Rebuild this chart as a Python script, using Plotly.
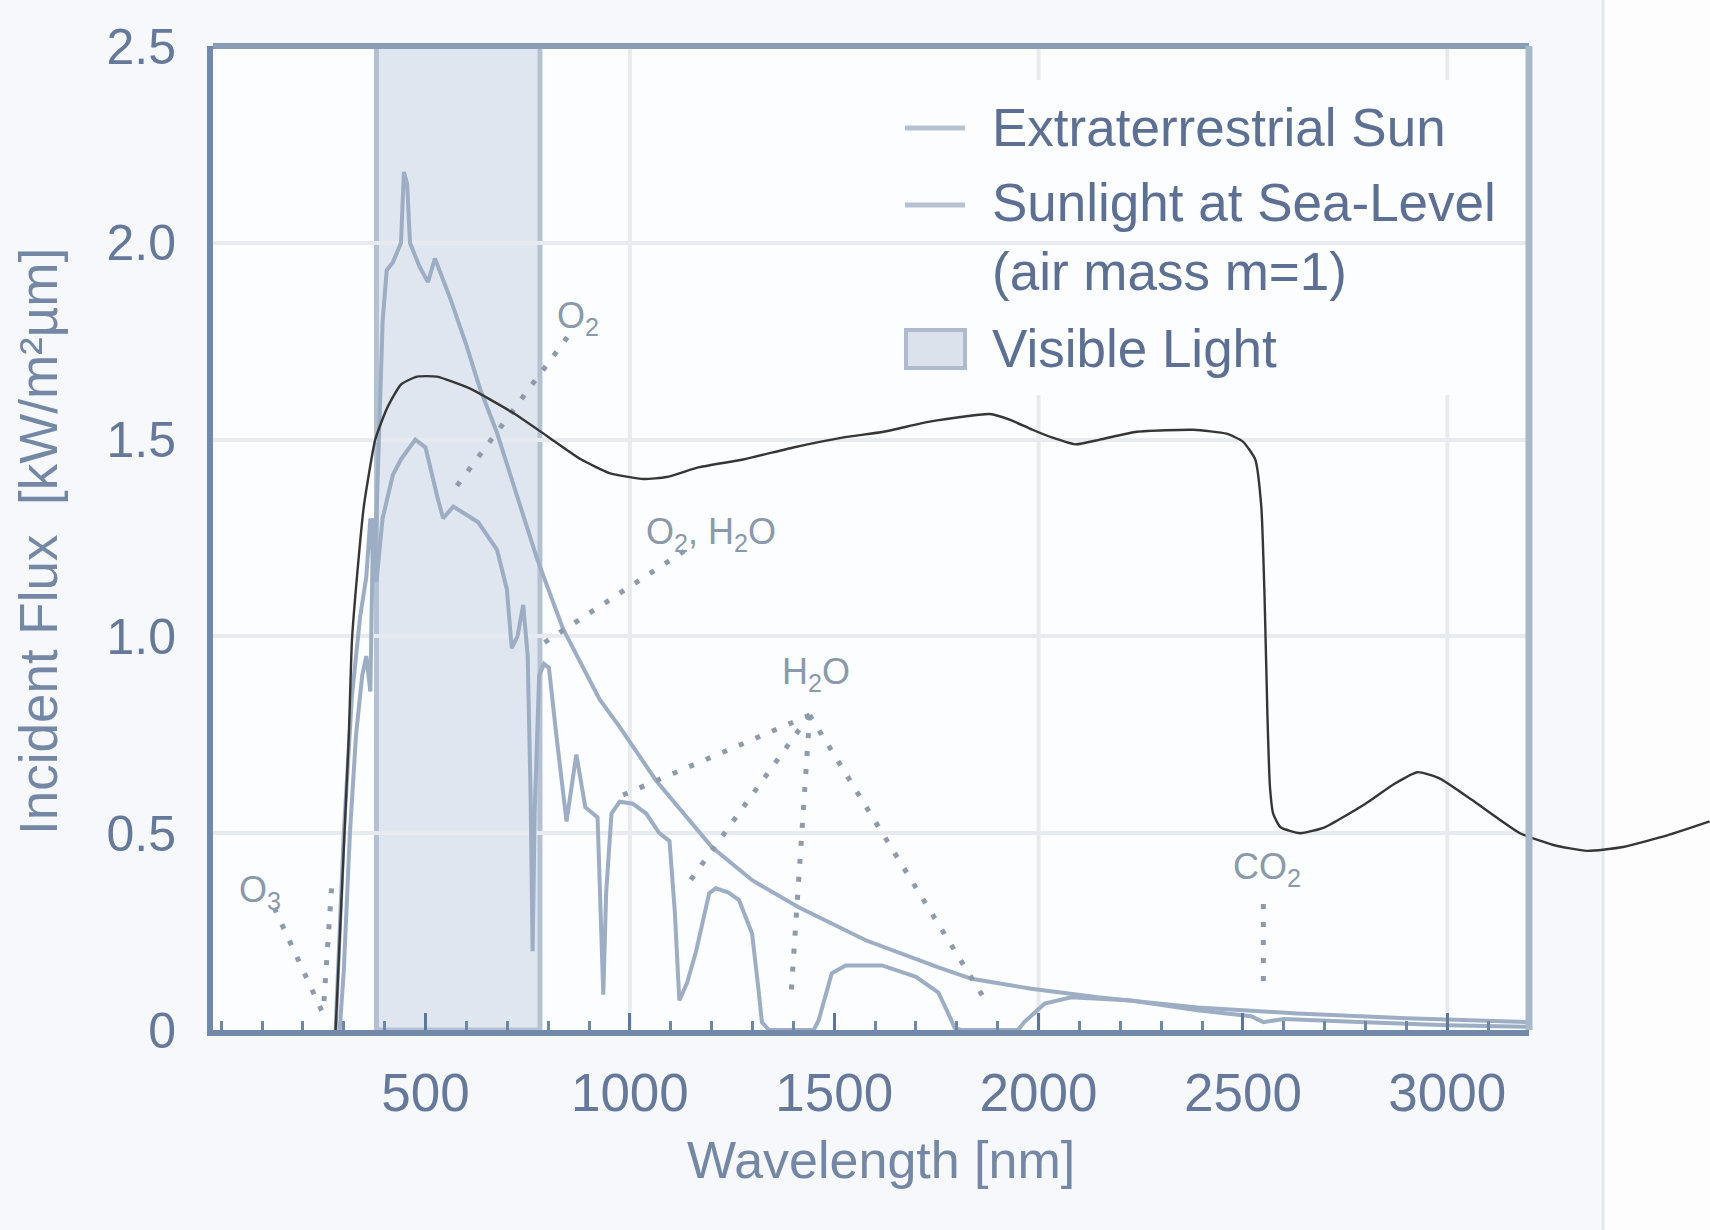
import plotly.graph_objects as go

W, H = 1710, 1230
# plot-area pixel box (full size)
PL, PR, PT, PB = 213, 1529, 46, 1030
X_RANGE = [-20, 3200]
Y_RANGE = [0, 2.5]

# ---------------- data ----------------
ext_nm = [280, 300, 320, 340, 355, 365, 375, 385, 395, 405, 420, 440, 447, 455, 462, 485, 506, 523,
          560, 600, 633, 674, 720, 772, 836, 926, 975, 1064, 1201, 1300, 1413, 1577, 1755, 1836,
          1982, 2145, 2389, 2633, 2900, 3200]
ext_val = [0.0, 0.5, 0.85, 1.05, 1.15, 1.30, 1.14, 1.50, 1.80, 1.93, 1.95, 2.00, 2.18, 2.15, 2.00,
           1.94, 1.90, 1.96, 1.86, 1.74, 1.63, 1.52, 1.37, 1.20, 1.02, 0.84, 0.77, 0.634, 0.464,
           0.38, 0.312, 0.228, 0.159, 0.13, 0.105, 0.083, 0.057, 0.042, 0.03, 0.02]

sea_nm = [290, 300, 315, 330, 345, 355, 365, 372, 380, 395, 420, 440, 475, 500, 530, 543, 568, 629,
          675, 699, 711, 725, 739, 750, 757, 762, 767, 778, 790, 802, 820, 845, 869, 891, 921, 928,
          935, 942, 955, 975, 1007, 1040, 1072, 1097, 1110, 1121, 1140, 1162, 1194, 1210, 1240,
          1267, 1299, 1315, 1323, 1340, 1450, 1462, 1494, 1528, 1617, 1700, 1755, 1780, 1795, 1810,
          1950, 1965, 2015, 2080, 2226, 2389, 2520, 2550, 2600, 2800, 3000, 3200]
sea_val = [0.0, 0.15, 0.5, 0.75, 0.9, 0.95, 0.86, 1.30, 1.14, 1.30, 1.41, 1.45, 1.50, 1.48, 1.35,
           1.30, 1.33, 1.29, 1.22, 1.12, 0.97, 1.00, 1.08, 0.95, 0.60, 0.20, 0.55, 0.90, 0.93, 0.92,
           0.75, 0.53, 0.70, 0.566, 0.54, 0.30, 0.09, 0.35, 0.55, 0.58, 0.575, 0.55, 0.50, 0.48,
           0.30, 0.075, 0.12, 0.20, 0.347, 0.36, 0.35, 0.33, 0.245, 0.10, 0.02, 0.0, 0.0, 0.025,
           0.144, 0.164, 0.164, 0.135, 0.095, 0.04, 0.005, 0.0, 0.0, 0.02, 0.067, 0.083, 0.075,
           0.05, 0.035, 0.02, 0.028, 0.02, 0.012, 0.008]

blk_nm = [280, 296, 312, 320, 333, 349, 377, 406, 440, 479, 528, 608, 711, 796, 880, 950, 1034, 1090,
          1170, 1280, 1400, 1520, 1621, 1730, 1828, 1880, 1931, 1985, 2034, 2090, 2150, 2241, 2379,
          2460, 2500, 2530, 2545, 2553, 2560, 2566, 2574, 2592, 2640, 2700, 2800, 2870, 2927, 2980,
          3060, 3178, 3260, 3342, 3430, 3540, 3642]
blk_val = [0.0, 0.37, 0.74, 0.99, 1.16, 1.33, 1.50, 1.58, 1.64, 1.66, 1.66, 1.63, 1.57, 1.51, 1.45,
           1.415, 1.40, 1.405, 1.43, 1.45, 1.48, 1.505, 1.52, 1.545, 1.56, 1.565, 1.55, 1.525, 1.505,
           1.488, 1.50, 1.52, 1.525, 1.515, 1.495, 1.45, 1.33, 1.10, 0.80, 0.62, 0.55, 0.515, 0.50,
           0.515, 0.575, 0.625, 0.655, 0.64, 0.585, 0.50, 0.47, 0.455, 0.465, 0.495, 0.53]

visible_band = [380, 780]

# absorption labels: (text, nm, value)
abs_labels = ["O<sub>3</sub>", "O<sub>2</sub>", "O<sub>2</sub>, H<sub>2</sub>O", "H<sub>2</sub>O", "CO<sub>2</sub>"]
abs_label_nm = [94, 873, 1198, 1455, 2559]
abs_label_val = [0.35, 1.81, 1.26, 0.904, 0.408]

# dotted pointer segments: start/end (nm, value)
ptr_x0 = [130, 270, 847, 1133, 1440, 1440, 1440, 1440, 2550]
ptr_y0 = [0.31, 0.36, 1.76, 1.217, 0.80, 0.80, 0.80, 0.80, 0.32]
ptr_x1 = [250, 250, 575, 770, 967, 1148, 1395, 1867, 2550]
ptr_y1 = [0.04, 0.05, 1.38, 0.97, 0.59, 0.38, 0.10, 0.08, 0.11]

x_tick_vals = [500, 1000, 1500, 2000, 2500, 3000]
y_tick_vals = [0, 0.5, 1.0, 1.5, 2.0, 2.5]
y_tick_text = ["0", "0.5", "1.0", "1.5", "2.0", "2.5"]
grid_x = [1000, 2000, 3000]

legend_items = ["Extraterrestrial Sun", "Sunlight at Sea-Level<br>(air mass m=1)", "Visible Light"]

# ---------------- styling ----------------
FONT = "Liberation Sans, Arial, sans-serif"
CURVE = "#9cadc4"
DOT = "#8f9aab"
LABEL = "#8b99ad"
TICKTXT = "#66799a"
TITLE = "#7488a6"
LEGTXT = "#5d7093"
PLOTBG = "#fcfdfe"


def px(xp):
    return xp / W


def py(yp):
    return 1 - yp / H


xdom = [px(PL), px(PR)]
ydom = [py(PB), py(PT)]
scale = (PR - PL) / (X_RANGE[1] - X_RANGE[0])
x2_range = [X_RANGE[0], X_RANGE[0] + (W - PL) / scale]

fig = go.Figure()

fig.add_trace(go.Scatter(x=ext_nm, y=ext_val, mode="lines", name="Extraterrestrial Sun",
                         line=dict(color=CURVE, width=4), showlegend=False))
fig.add_trace(go.Scatter(x=sea_nm, y=sea_val, mode="lines", name="Sunlight at Sea-Level (air mass m=1)",
                         line=dict(color=CURVE, width=4), showlegend=False))

# dotted pointers
for a, b, c, d in zip(ptr_x0, ptr_y0, ptr_x1, ptr_y1):
    fig.add_trace(go.Scatter(x=[a, c], y=[b, d], mode="lines", showlegend=False, hoverinfo="skip",
                             line=dict(color=DOT, width=5, dash="5px,13px")))

# black overlay line on a wider, invisible axis pair (same scale) so it can run past the frame
fig.add_trace(go.Scatter(x=blk_nm, y=blk_val, mode="lines", xaxis="x2", yaxis="y2", showlegend=False,
                         line=dict(color="#363636", width=2.4, shape="spline", smoothing=0.5)))

shapes = []
# whiter strip at right of page with a thin divider
shapes.append(dict(type="rect", xref="paper", yref="paper", x0=px(1603), x1=1, y0=0, y1=1,
                   fillcolor="#fdfdfe", line=dict(width=0), layer="below"))
shapes.append(dict(type="line", xref="paper", yref="paper", x0=px(1603), x1=px(1603), y0=0, y1=1,
                   line=dict(color="#e2e7ed", width=3), layer="below"))
# plot background (drawn as a shape so the wide overlay subplot stays transparent)
shapes.append(dict(type="rect", xref="paper", yref="paper", x0=xdom[0], x1=xdom[1], y0=ydom[0], y1=ydom[1],
                   fillcolor=PLOTBG, line=dict(width=0), layer="below"))
# visible band
shapes.append(dict(type="rect", xref="x", yref="paper", x0=visible_band[0], x1=visible_band[1],
                   y0=ydom[0], y1=ydom[1], fillcolor="#dfe6ef",
                   line=dict(color="#b3c1d3", width=5), layer="below"))
# vertical gridlines
for g in grid_x:
    shapes.append(dict(type="line", xref="x", yref="paper", x0=g, x1=g, y0=ydom[0], y1=ydom[1],
                       line=dict(color="#e7eaef", width=4), layer="below"))
# legend background (hides grid)
shapes.append(dict(type="rect", xref="paper", yref="paper", x0=px(862), x1=px(1525), y0=py(395), y1=py(80),
                   fillcolor=PLOTBG, line=dict(width=0), layer="between"))
# top and right frame (lighter)
shapes.append(dict(type="line", xref="paper", yref="paper", x0=px(PL), x1=px(PR), y0=py(PT), y1=py(PT),
                   line=dict(color="#8a9db7", width=6), layer="above"))
shapes.append(dict(type="line", xref="paper", yref="paper", x0=px(PR), x1=px(PR), y0=py(PB), y1=py(PT),
                   line=dict(color="#a9b8cb", width=7), layer="above"))
# legend symbols
shapes.append(dict(type="line", xref="paper", yref="paper", x0=px(905), x1=px(965), y0=py(128), y1=py(128),
                   line=dict(color="#b7c2d0", width=5), layer="above"))
shapes.append(dict(type="line", xref="paper", yref="paper", x0=px(905), x1=px(965), y0=py(205), y1=py(205),
                   line=dict(color="#b7c2d0", width=5), layer="above"))
shapes.append(dict(type="rect", xref="paper", yref="paper", x0=px(906), x1=px(965), y0=py(368), y1=py(330),
                   fillcolor="#dbe2ec", line=dict(color="#aebbcc", width=4), layer="above"))

annotations = []
for t, xv, yv in zip(abs_labels, abs_label_nm, abs_label_val):
    annotations.append(dict(x=xv, y=yv, xref="x", yref="y", text=t, showarrow=False,
                            font=dict(family=FONT, size=36, color=LABEL), xanchor="center", yanchor="middle"))
# legend texts
leg_y = [128, 237, 349]
for t, yy in zip(legend_items, leg_y):
    annotations.append(dict(x=px(990), y=py(yy), xref="paper", yref="paper", text=t, showarrow=False,
                            align="left", xanchor="left", yanchor="middle",
                            font=dict(family=FONT, size=53, color=LEGTXT)))
# axis titles
annotations.append(dict(x=px(881), y=py(1160), xref="paper", yref="paper", text="Wavelength [nm]",
                        showarrow=False, xanchor="center", yanchor="middle",
                        font=dict(family=FONT, size=52, color=TITLE)))
annotations.append(dict(x=px(38), y=py(542), xref="paper", yref="paper",
                        text="Incident Flux  [kW/m²µm]", textangle=-90,
                        showarrow=False, xanchor="center", yanchor="middle",
                        font=dict(family=FONT, size=53, color=TITLE)))

fig.update_layout(
    width=W, height=H, autosize=False,
    margin=dict(l=0, r=0, t=0, b=0, pad=0),
    paper_bgcolor="#f6f8fb", plot_bgcolor="rgba(0,0,0,0)",
    showlegend=False,
    shapes=shapes, annotations=annotations,
    xaxis=dict(domain=xdom, range=X_RANGE, automargin=False,
               tickmode="array", tickvals=x_tick_vals,
               ticks="inside", ticklen=17, tickwidth=3, tickcolor="#5e7699",
               minor=dict(dtick=100, tick0=0, ticks="inside", ticklen=9, tickwidth=3, tickcolor="#6f86a6"),
               showgrid=False, zeroline=False,
               showline=True, linecolor="#7189aa", linewidth=6,
               tickfont=dict(family=FONT, size=53, color=TICKTXT), ticklabelstandoff=11),
    yaxis=dict(domain=ydom, range=Y_RANGE, automargin=False,
               tickmode="array", tickvals=y_tick_vals, ticktext=y_tick_text,
               ticks="", showgrid=True, gridcolor="#e7eaef", gridwidth=4, zeroline=False,
               showline=True, linecolor="#7189aa", linewidth=6,
               tickfont=dict(family=FONT, size=50, color=TICKTXT), ticklabelstandoff=21),
    xaxis2=dict(domain=[px(PL), 1.0], range=x2_range, anchor="y2", visible=False, showgrid=False),
    yaxis2=dict(domain=ydom, range=Y_RANGE, anchor="x2", visible=False, showgrid=False),
)

fig.write_html("out.html")
